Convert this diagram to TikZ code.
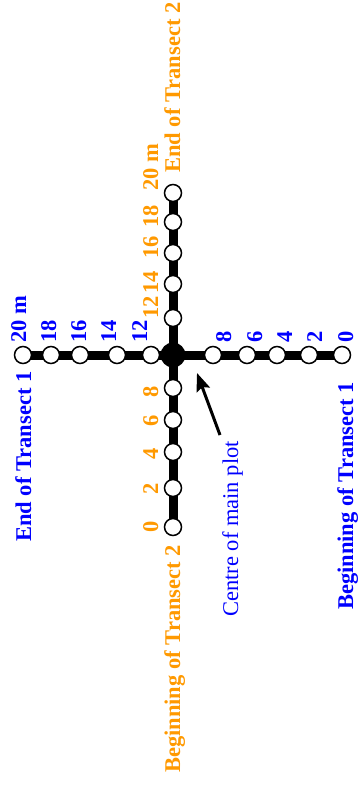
\documentclass[tikz,border=0pt]{standalone}
\usepackage{fontspec}
\setmainfont{Liberation Serif}
\usepackage{tikz}
\usetikzlibrary{arrows.meta}
\usetikzlibrary{backgrounds}
\usepackage{xcolor}
\definecolor{tsorange}{HTML}{FF9900}

\tikzset{
  stake/.style={draw, circle, fill=white, line width=1.5pt, minimum size=17pt, inner sep=0pt},
  tlabel/.style={rotate=90, inner sep=0pt, font=\fontsize{22.5}{27}\selectfont\bfseries},
  one/.style={tlabel, text=blue, anchor=base west},
  two/.style={tlabel, text=tsorange, anchor=base},
}

\begin{document}
\begin{tikzpicture}[x=1pt, y=1pt]
     \useasboundingbox (0,0) rectangle (359,-787);

     % centre of the main plot
     \node[circle, fill, minimum size=25pt, inner sep=0pt] (c) at (173,-355) {};

     % transect 1, left to right from 20 m down to 0
     \node[stake] (a20) at ( 23,-355) {};
     \node[stake] (a18) at ( 51,-355) {};
     \node[stake] (a16) at ( 80,-355) {};
     \node[stake] (a14) at (117,-355) {};
     \node[stake] (a12) at (151,-355) {};
     \node[stake] (a8)  at (213,-355) {};
     \node[stake] (a6)  at (247,-355) {};
     \node[stake] (a4)  at (277,-355) {};
     \node[stake] (a2)  at (309,-355) {};
     \node[stake] (a0)  at (342,-355) {};

     % transect 2, top to bottom from 20 m down to 0
     \node[stake] (b20) at (173,-193) {};
     \node[stake] (b18) at (173,-222) {};
     \node[stake] (b16) at (173,-253) {};
     \node[stake] (b14) at (173,-284) {};
     \node[stake] (b12) at (173,-318) {};
     \node[stake] (b8)  at (173,-388) {};
     \node[stake] (b6)  at (173,-420) {};
     \node[stake] (b4)  at (173,-452) {};
     \node[stake] (b2)  at (173,-488) {};
     \node[stake] (b0)  at (173,-527) {};

     \begin{scope}[on background layer]
       \draw[line width=9pt] (a20.center) -- (a0.center);
       \draw[line width=9pt] (b20.center) -- (b0.center);
     \end{scope}

     % distances along transect 1
     \node[one] (la20) at ( 26,-343) {20 m};
     \node[one] (la18) at ( 56,-343) {18};
     \node[one] (la16) at ( 86,-343) {16};
     \node[one] (la14) at (116,-343) {14};
     \node[one] (la12) at (147,-343) {12};
     \node[one] (la8)  at (231,-343) {8};
     \node[one] (la6)  at (262,-343) {6};
     \node[one] (la4)  at (292,-343) {4};
     \node[one] (la2)  at (322,-343) {2};
     \node[one] (la0)  at (353,-343) {0};

     % distances along transect 2
     \node[two] (lb20) at (158,-167.5) {20 m};
     \node[two] (lb18) at (158,-216) {18};
     \node[two] (lb16) at (158,-247) {16};
     \node[two] (lb14) at (158,-282.5) {14};
     \node[two] (lb12) at (158,-307.5) {12};
     \node[two] (lb8)  at (158,-391.5) {8};
     \node[two] (lb6)  at (158,-421) {6};
     \node[two] (lb4)  at (158,-453.5) {4};
     \node[two] (lb2)  at (158,-489) {2};
     \node[two] (lb0)  at (158,-526.5) {0};

     % ends of the transects
     \node[one] (end1)   at ( 31,-542) {End of Transect 1};
     \node[one] (begin1) at (353,-610) {Beginning of Transect 1};
     \node[two, anchor=base west] (end2)   at (180,-173) {End of Transect 2};
     \node[two, anchor=base west] (begin2) at (180,-773) {Beginning of Transect 2};

     \node[one, font=\fontsize{22.5}{27}\selectfont] (cmp) at (238,-617) {Centre of main plot};
     \coordinate (tail) at (220,-435);
     \coordinate (tip)  at (197,-373);
     \draw[line width=3pt, -{Stealth[length=18pt, width=14pt, inset=3pt]}] (tail) -- (tip);
   \end{tikzpicture}
\end{document}
